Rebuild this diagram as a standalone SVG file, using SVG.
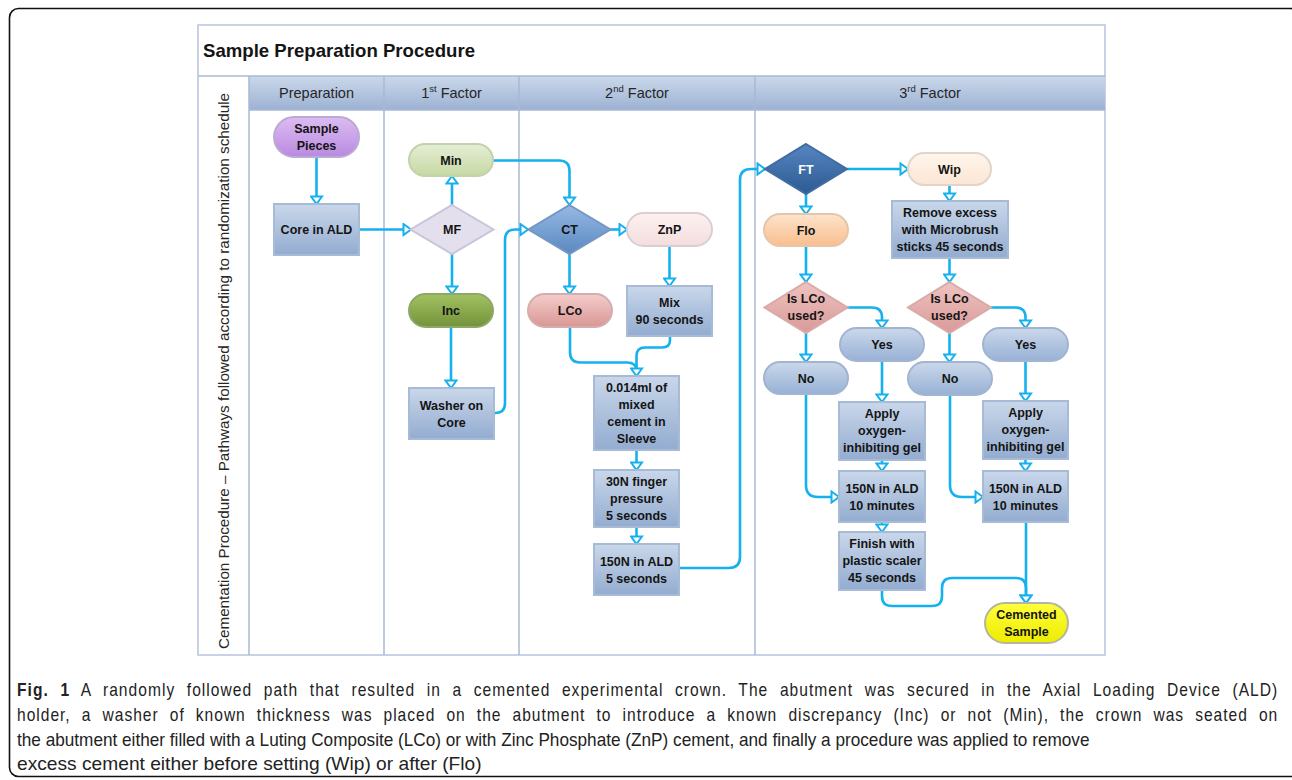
<svg xmlns="http://www.w3.org/2000/svg" width="1292" height="780" viewBox="0 0 1292 780">
<style>
.t{font-family:"Liberation Sans",Arial,sans-serif;font-weight:bold;font-size:12.5px;fill:#141414;text-anchor:middle}
.h{font-family:"Liberation Sans",Arial,sans-serif;font-size:14.5px;fill:#262626;text-anchor:middle}
.lane{stroke:#a9b8d4;stroke-width:1.5;fill:none}
.c{fill:none;stroke:#15b1ee;stroke-width:2.6}
.ca{fill:none;stroke:#15b1ee;stroke-width:2.6;marker-end:url(#ah)}
.rect{fill:url(#gRect);stroke:#a7bad6;stroke-width:2}
.cap{font-family:"Liberation Sans",Arial,sans-serif;font-size:17.5px;fill:#222}
</style>
<defs>
<marker id="ah" viewBox="0 0 10 14" refX="9" refY="7" markerWidth="10" markerHeight="14" markerUnits="userSpaceOnUse" orient="auto">
<path d="M1.5,1.5 L9,7 L1.5,12.5 Z" fill="#fff" stroke="#15b1ee" stroke-width="2"/>
</marker>
<linearGradient id="gHead" x1="0" y1="0" x2="0" y2="1"><stop offset="0" stop-color="#cbd8ea"/><stop offset="1" stop-color="#9cb2d3"/></linearGradient>
<linearGradient id="gRect" x1="0" y1="0" x2="0" y2="1"><stop offset="0" stop-color="#c9d7ea"/><stop offset="1" stop-color="#93acd0"/></linearGradient>
<linearGradient id="gYN" x1="0" y1="0" x2="0" y2="1"><stop offset="0" stop-color="#cbd8ea"/><stop offset="1" stop-color="#97b1d5"/></linearGradient>
<linearGradient id="gPurp" x1="0" y1="0" x2="0" y2="1"><stop offset="0" stop-color="#dcbcf2"/><stop offset="1" stop-color="#b98ae0"/></linearGradient>
<linearGradient id="gMin" x1="0" y1="0" x2="0" y2="1"><stop offset="0" stop-color="#e5eed6"/><stop offset="1" stop-color="#c6d9a3"/></linearGradient>
<linearGradient id="gInc" x1="0" y1="0" x2="0" y2="1"><stop offset="0" stop-color="#a2c262"/><stop offset="1" stop-color="#74923a"/></linearGradient>
<linearGradient id="gZnP" x1="0" y1="0" x2="0" y2="1"><stop offset="0" stop-color="#fcf1f0"/><stop offset="1" stop-color="#f3dedd"/></linearGradient>
<linearGradient id="gLCo" x1="0" y1="0" x2="0" y2="1"><stop offset="0" stop-color="#f4cdcb"/><stop offset="1" stop-color="#d99694"/></linearGradient>
<linearGradient id="gWip" x1="0" y1="0" x2="0" y2="1"><stop offset="0" stop-color="#fef5ec"/><stop offset="1" stop-color="#fce6d4"/></linearGradient>
<linearGradient id="gFlo" x1="0" y1="0" x2="0" y2="1"><stop offset="0" stop-color="#fde3cc"/><stop offset="1" stop-color="#f9be8e"/></linearGradient>
<linearGradient id="gCT" x1="0" y1="0" x2="0" y2="1"><stop offset="0" stop-color="#95b9e5"/><stop offset="1" stop-color="#5b88c0"/></linearGradient>
<linearGradient id="gFT" x1="0" y1="0" x2="0" y2="1"><stop offset="0" stop-color="#5685c0"/><stop offset="1" stop-color="#2c5b93"/></linearGradient>
<linearGradient id="gIs" x1="0" y1="0" x2="0" y2="1"><stop offset="0" stop-color="#eec3c1"/><stop offset="1" stop-color="#d99a98"/></linearGradient>
<linearGradient id="gYel" x1="0" y1="0" x2="0" y2="1"><stop offset="0" stop-color="#ffff3c"/><stop offset="1" stop-color="#ecec00"/></linearGradient>
</defs>

<rect x="9.5" y="8.5" width="1290" height="768" rx="9" fill="#fff" stroke="#111" stroke-width="1.6"/>

<g id="frame">
<rect x="198" y="25" width="907" height="630" fill="#fff" stroke="#b6c3dc" stroke-width="1.5"/>
<rect x="249" y="76" width="856" height="34" fill="url(#gHead)"/>
<line class="lane" x1="198" y1="76" x2="1105" y2="76"/>
<line class="lane" x1="249" y1="110" x2="1105" y2="110"/>
<line class="lane" x1="249" y1="76" x2="249" y2="655"/>
<line class="lane" x1="384" y1="76" x2="384" y2="655"/>
<line class="lane" x1="519" y1="76" x2="519" y2="655"/>
<line class="lane" x1="755" y1="76" x2="755" y2="655"/>
<text x="203" y="57" font-family="Liberation Sans,Arial,sans-serif" font-weight="bold" font-size="18.5" fill="#141414" textLength="272" lengthAdjust="spacingAndGlyphs">Sample Preparation Procedure</text>
<text class="h" x="316.5" y="98">Preparation</text>
<text class="h" x="451.5" y="98">1<tspan font-size="9.5" dy="-6">st</tspan><tspan dy="6"> Factor</tspan></text>
<text class="h" x="637" y="98">2<tspan font-size="9.5" dy="-6">nd</tspan><tspan dy="6"> Factor</tspan></text>
<text class="h" x="930" y="98">3<tspan font-size="9.5" dy="-6">rd</tspan><tspan dy="6"> Factor</tspan></text>
<text class="h" transform="translate(229,371) rotate(-90)" x="0" y="0" font-size="14" textLength="556" lengthAdjust="spacingAndGlyphs">Cementation Procedure – Pathways followed according to randomization schedule</text>
</g>

<g id="connectors">
<path class="ca" d="M316.5,157 V204"/>
<path class="ca" d="M359,229.5 H411"/>
<path class="ca" d="M452,205 V176"/>
<path class="ca" d="M452,254 V294"/>
<path class="ca" d="M451,327 V388"/>
<path class="ca" d="M494,413 H495 Q505,413 505,403 V240 Q505,229.5 515,229.5 H528"/>
<path class="ca" d="M493,160.5 H559 Q569.5,160.5 569.5,171 V205"/>
<path class="ca" d="M610,229.5 H627"/>
<path class="ca" d="M569.5,254 V294"/>
<path class="ca" d="M669.5,246 V286"/>
<path class="c" d="M570,327 V352 Q570,362.5 580,362.5 H627 Q636.5,362.5 636.5,371 V376"/>
<path class="ca" d="M670,336 V340 Q670,347.5 662,347.5 H645 Q636.5,347.5 636.5,356 V376"/>
<path class="ca" d="M636.5,450 V470"/>
<path class="ca" d="M636.5,527 V544"/>
<path class="ca" d="M679,568 H729 Q740,568 740,557 V180 Q740,169 751,169 H765"/>
<path class="ca" d="M847,169 H908"/>
<path class="ca" d="M806,194 V214"/>
<path class="ca" d="M949.5,185 V201"/>
<path class="ca" d="M806,246 V282"/>
<path class="ca" d="M949.5,258 V282"/>
<path class="ca" d="M847,307.5 H872 Q882,307.5 882,317.5 V328"/>
<path class="ca" d="M806,333 V362"/>
<path class="ca" d="M991,307.5 H1015.5 Q1025.5,307.5 1025.5,317.5 V328"/>
<path class="ca" d="M949.5,333 V362"/>
<path class="ca" d="M882,361 V402"/>
<path class="ca" d="M882,460 V471"/>
<path class="ca" d="M806,394 V485 Q806,497 818,497 H839"/>
<path class="ca" d="M882,522 V532"/>
<path class="ca" d="M1025.5,361 V401"/>
<path class="ca" d="M1025.5,459 V471"/>
<path class="ca" d="M950,395 V485 Q950,497 962,497 H983"/>
<path class="ca" d="M1026,522 V603"/>
<path class="ca" d="M882,590 V596 Q882,606 892,606 H932 Q942,606 942,596 V588 Q942,578 952,578 H1016 Q1026,578 1026,588 V603"/>
</g>

<g id="sample-pieces"><rect x="274" y="117" width="85" height="40" rx="20" fill="url(#gPurp)" stroke="#bba9d6" stroke-width="2"/><text class="t" x="316.5" y="133">Sample</text><text class="t" x="316.5" y="150">Pieces</text></g>
<g id="core-in-ald"><rect class="rect" x="274" y="204" width="85" height="51"/><text class="t" x="316.5" y="234">Core in ALD</text></g>
<g id="mf"><polygon points="452,205 493.5,229.5 452,254 410.5,229.5" fill="#e3dfec" stroke="#c9c4da" stroke-width="2"/><text class="t" x="452" y="234">MF</text></g>
<g id="min"><rect x="409" y="144" width="84" height="32" rx="16" fill="url(#gMin)" stroke="#c3d2aa" stroke-width="2"/><text class="t" x="451" y="164.5">Min</text></g>
<g id="inc"><rect x="409" y="294" width="84" height="33" rx="16.5" fill="url(#gInc)" stroke="#8ea866" stroke-width="2"/><text class="t" x="451" y="315">Inc</text></g>
<g id="washer"><rect class="rect" x="409" y="388" width="85" height="51"/><text class="t" x="451.5" y="409.5">Washer on</text><text class="t" x="451.5" y="426.5">Core</text></g>
<g id="ct"><polygon points="569.5,205 610.5,229.5 569.5,254 528.5,229.5" fill="url(#gCT)" stroke="#7597c2" stroke-width="2"/><text class="t" x="569.5" y="234">CT</text></g>
<g id="znp"><rect x="627" y="213" width="85" height="33" rx="16.5" fill="url(#gZnP)" stroke="#d9cfd0" stroke-width="2"/><text class="t" x="669.5" y="234">ZnP</text></g>
<g id="lco"><rect x="528" y="294" width="84" height="33" rx="16.5" fill="url(#gLCo)" stroke="#d4aeae" stroke-width="2"/><text class="t" x="570" y="315">LCo</text></g>
<g id="mix"><rect class="rect" x="627" y="286" width="85" height="50"/><text class="t" x="669.5" y="307">Mix</text><text class="t" x="669.5" y="324">90 seconds</text></g>
<g id="mixed-cement"><rect class="rect" x="594" y="376" width="85" height="74"/><text class="t" x="636.5" y="392">0.014ml of</text><text class="t" x="636.5" y="409">mixed</text><text class="t" x="636.5" y="426">cement in</text><text class="t" x="636.5" y="443">Sleeve</text></g>
<g id="finger-pressure"><rect class="rect" x="594" y="470" width="85" height="57"/><text class="t" x="636.5" y="486">30N finger</text><text class="t" x="636.5" y="503">pressure</text><text class="t" x="636.5" y="520">5 seconds</text></g>
<g id="ald-5s"><rect class="rect" x="594" y="544" width="85" height="51"/><text class="t" x="636.5" y="565.5">150N in ALD</text><text class="t" x="636.5" y="582.5">5 seconds</text></g>
<g id="ft"><polygon points="806,144 847,169 806,194 765,169" fill="url(#gFT)" stroke="#3f6ca3" stroke-width="2"/><text class="t" x="806" y="173.5" style="fill:#fff">FT</text></g>
<g id="wip"><rect x="908" y="153" width="83" height="32" rx="16" fill="url(#gWip)" stroke="#e2d4c9" stroke-width="2"/><text class="t" x="949.5" y="173.5">Wip</text></g>
<g id="flo"><rect x="764" y="214" width="84" height="32" rx="16" fill="url(#gFlo)" stroke="#e6c6a9" stroke-width="2"/><text class="t" x="806" y="234.5">Flo</text></g>
<g id="remove-excess"><rect class="rect" x="892" y="201" width="116" height="57"/><text class="t" x="950" y="217">Remove excess</text><text class="t" x="950" y="234">with Microbrush</text><text class="t" x="950" y="251">sticks 45 seconds</text></g>
<g id="is-lco-1"><polygon points="806,282 847.5,307.5 806,333 764.5,307.5" fill="url(#gIs)" stroke="#d8aaa8" stroke-width="2"/><text class="t" x="806" y="303">Is LCo</text><text class="t" x="806" y="320">used?</text></g>
<g id="is-lco-2"><polygon points="949.5,282 991,307.5 949.5,333 908,307.5" fill="url(#gIs)" stroke="#d8aaa8" stroke-width="2"/><text class="t" x="949.5" y="303">Is LCo</text><text class="t" x="949.5" y="320">used?</text></g>
<g id="yes-1"><rect x="840" y="328" width="84" height="33" rx="16.5" fill="url(#gYN)" stroke="#a1b4d0" stroke-width="2"/><text class="t" x="882" y="349">Yes</text></g>
<g id="no-1"><rect x="764" y="362" width="84" height="32" rx="16" fill="url(#gYN)" stroke="#a1b4d0" stroke-width="2"/><text class="t" x="806" y="382.5">No</text></g>
<g id="yes-2"><rect x="983" y="328" width="85" height="33" rx="16.5" fill="url(#gYN)" stroke="#a1b4d0" stroke-width="2"/><text class="t" x="1025.5" y="349">Yes</text></g>
<g id="no-2"><rect x="908" y="362" width="84" height="33" rx="16.5" fill="url(#gYN)" stroke="#a1b4d0" stroke-width="2"/><text class="t" x="950" y="383">No</text></g>
<g id="apply-1"><rect class="rect" x="839" y="402" width="86" height="58"/><text class="t" x="882" y="418">Apply</text><text class="t" x="882" y="435">oxygen-</text><text class="t" x="882" y="452">inhibiting gel</text></g>
<g id="ald-10m-1"><rect class="rect" x="839" y="471" width="86" height="51"/><text class="t" x="882" y="493">150N in ALD</text><text class="t" x="882" y="510">10 minutes</text></g>
<g id="finish"><rect class="rect" x="839" y="532" width="86" height="58"/><text class="t" x="882" y="548">Finish with</text><text class="t" x="882" y="565">plastic scaler</text><text class="t" x="882" y="582">45 seconds</text></g>
<g id="apply-2"><rect class="rect" x="983" y="401" width="85" height="58"/><text class="t" x="1025.5" y="417">Apply</text><text class="t" x="1025.5" y="434">oxygen-</text><text class="t" x="1025.5" y="451">inhibiting gel</text></g>
<g id="ald-10m-2"><rect class="rect" x="983" y="471" width="85" height="51"/><text class="t" x="1025.5" y="493">150N in ALD</text><text class="t" x="1025.5" y="510">10 minutes</text></g>
<g id="cemented-sample"><rect x="985" y="603" width="83" height="40" rx="20" fill="url(#gYel)" stroke="#b5b5a0" stroke-width="2"/><text class="t" x="1026.5" y="619">Cemented</text><text class="t" x="1026.5" y="636">Sample</text></g>

<g id="caption" transform="translate(17,0) scale(0.89,1)">
<text class="cap" x="0" y="696" word-spacing="7" textLength="1416" lengthAdjust="spacing"><tspan font-weight="bold">Fig. 1</tspan> A randomly followed path that resulted in a cemented experimental crown. The abutment was secured in the Axial Loading Device (ALD)</text>
<text class="cap" x="0" y="721" word-spacing="6.5" textLength="1416" lengthAdjust="spacing">holder, a washer of known thickness was placed on the abutment to introduce a known discrepancy (Inc) or not (Min), the crown was seated on</text>
<text class="cap" x="0" y="746" textLength="1205" lengthAdjust="spacingAndGlyphs">the abutment either filled with a Luting Composite (LCo) or with Zinc Phosphate (ZnP) cement, and finally a procedure was applied to remove</text>
<text class="cap" x="0" y="770" textLength="522" lengthAdjust="spacingAndGlyphs">excess cement either before setting (Wip) or after (Flo)</text>
</g>
</svg>
